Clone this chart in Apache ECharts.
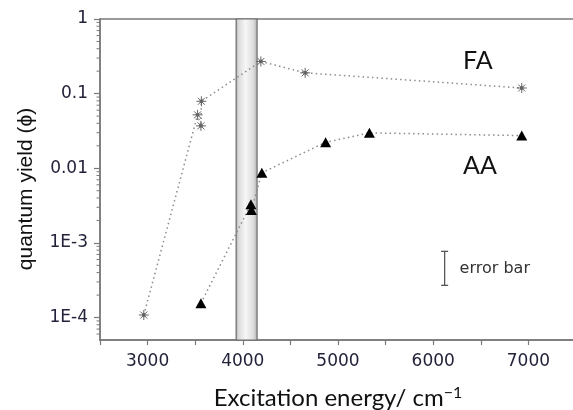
<!DOCTYPE html>
<html>
<head>
<meta charset="utf-8">
<script src="https://cdn.jsdelivr.net/npm/echarts@6/dist/echarts.min.js"></script>
<style>
  html, body { margin: 0; padding: 0; background: #fff; }
  #chart { width: 573px; height: 410px; }
</style>
</head>
<body>
<div id="chart"></div>
<script>
// Excitation energy (cm^-1) and quantum yield for each acid
const faEnergy = [2960, 3525, 3560, 3565, 4190, 4655, 6930];
const faYield  = [1.08e-4, 0.052, 0.037, 0.079, 0.27, 0.19, 0.119];
const aaEnergy = [3560, 4085, 4090, 4200, 4870, 5330, 6930];
const aaYield  = [1.55e-4, 3.3e-3, 2.75e-3, 8.7e-3, 0.0223, 0.0298, 0.0274];

// Shaded energy band (cm^-1)
const bandRange = [3930, 4150];

// Representative error bar: energy, low and high yield
const errorBar = { energy: 6120, low: 2.7e-4, high: 7.7e-4 };

// Axis ranges and labels
const xRange = [2500, 7500];
const yRange = [5e-5, 1];
const yTickLabels = { '0': '1', '-1': '0.1', '-2': '0.01', '-3': '1E-3', '-4': '1E-4' };
const yMinorTicks = [];
[-5, -4, -3, -2, -1].forEach(function (e) {
  for (let m = 2; m <= 9; m++) {
    const v = m * Math.pow(10, e);
    if (v > yRange[0] && v < yRange[1]) yMinorTicks.push(v);
  }
});

const toPairs = (xs, ys) => xs.map((x, i) => [x, ys[i]]);

const chart = echarts.init(document.getElementById('chart'), null, { renderer: 'canvas' });

const axisGray = '#7a7a7a';
const lineGray = '#8c8c8c';

const option = {
  animation: false,
  grid: {
    left: 100, right: -3, top: 19, bottom: 70,
    outerBoundsMode: 'none',
    containLabel: false,
    show: true, borderColor: axisGray, borderWidth: 1.5, backgroundColor: 'transparent'
  },
  xAxis: {
    type: 'value',
    min: xRange[0], max: xRange[1], interval: 500,
    name: 'Excitation energy/ cm{sup|\u22121}',
    nameLocation: 'middle', nameGap: 45,
    nameTextStyle: {
      fontFamily: 'Lato', fontSize: 24, color: '#111',
      rich: { sup: { fontFamily: 'Lato', fontSize: 16, color: '#111', verticalAlign: 'top', padding: [0, 0, 10, 0] } }
    },
    axisLine: { show: true, lineStyle: { color: axisGray, width: 1.5 } },
    axisTick: { show: true, inside: false, length: 5, lineStyle: { color: axisGray, width: 1.2 } },
    axisLabel: {
      margin: 13, fontFamily: 'DejaVu Sans', fontSize: 17, color: '#22223a',
      formatter: v => (v % 1000 === 0 && v > xRange[0] && v < xRange[1]) ? String(v) : ''
    },
    splitLine: { show: false }
  },
  yAxis: {
    type: 'log', logBase: 10,
    min: yRange[0], max: yRange[1],
    axisLine: { show: true, lineStyle: { color: axisGray, width: 1.5 } },
    axisTick: { show: true, inside: false, length: 6, lineStyle: { color: axisGray, width: 1.2 } },
    axisLabel: {
      margin: 12, fontFamily: 'DejaVu Sans', fontSize: 17, color: '#22223a',
      showMinLabel: false,
      formatter: function (v) {
        const e = Math.round(Math.log10(v));
        if (Math.abs(Math.log10(v) - e) > 1e-6) return '';
        return yTickLabels[String(e)] || '';
      }
    },
    splitLine: { show: false }
  },
  series: [
    {
      name: 'FA',
      type: 'line',
      data: toPairs(faEnergy, faYield),
      symbol: 'path://M0,5L10,5M5,0L5,10M1.5,1.5L8.5,8.5M8.5,1.5L1.5,8.5M3.8,3.8L6.2,3.8L6.2,6.2L3.8,6.2Z',
      symbolSize: 10,
      itemStyle: { color: '#111', borderColor: '#666', borderWidth: 1 },
      lineStyle: { color: lineGray, width: 1.5, type: [1.5, 3.2] },
      z: 3,
      markArea: {
        silent: true,
        itemStyle: {
          color: {
            type: 'linear', x: 0, y: 0, x2: 1, y2: 0,
            colorStops: [
              { offset: 0, color: '#b0b0b0' },
              { offset: 0.15, color: '#dcdcdc' },
              { offset: 0.45, color: '#f6f6f6' },
              { offset: 0.8, color: '#dedede' },
              { offset: 1, color: '#acacac' }
            ]
          },
          borderColor: '#6e6e6e', borderWidth: 1.2
        },
        data: [[{ xAxis: bandRange[0] }, { xAxis: bandRange[1] }]]
      }
    },
    {
      name: 'AA',
      type: 'line',
      data: toPairs(aaEnergy, aaYield),
      symbol: 'triangle',
      symbolSize: [11, 10],
      itemStyle: { color: '#000' },
      lineStyle: { color: lineGray, width: 1.5, type: [1.5, 3.2] },
      z: 3
    },
    {
      // log-axis minor ticks, placed through the axis scale
      type: 'custom',
      clip: false,
      silent: true,
      data: yMinorTicks.map(v => [xRange[0], v]),
      renderItem: function (params, api) {
        const p = api.coord([api.value(0), api.value(1)]);
        return {
          type: 'line',
          shape: { x1: p[0] - 3.5, y1: p[1], x2: p[0], y2: p[1] },
          style: { stroke: axisGray, lineWidth: 1 }
        };
      },
      z: 2
    },
    {
      // representative error bar with its caption
      type: 'custom',
      clip: false,
      silent: true,
      data: [[errorBar.energy, errorBar.low, errorBar.high]],
      renderItem: function (params, api) {
        const lo = api.coord([api.value(0), api.value(1)]);
        const hi = api.coord([api.value(0), api.value(2)]);
        const cap = 3.5;
        return {
          type: 'group',
          children: [
            { type: 'line', shape: { x1: hi[0], y1: hi[1], x2: lo[0], y2: lo[1] }, style: { stroke: '#555', lineWidth: 1.3 } },
            { type: 'line', shape: { x1: hi[0] - cap, y1: hi[1], x2: hi[0] + cap, y2: hi[1] }, style: { stroke: '#555', lineWidth: 1.3 } },
            { type: 'line', shape: { x1: lo[0] - cap, y1: lo[1], x2: lo[0] + cap, y2: lo[1] }, style: { stroke: '#555', lineWidth: 1.3 } },
            {
              type: 'text',
              style: {
                text: 'error bar', x: hi[0] + 15, y: (hi[1] + lo[1]) / 2,
                verticalAlign: 'middle', align: 'left',
                font: '16px "DejaVu Sans"', fill: '#333'
              }
            }
          ]
        };
      },
      z: 4
    }
  ],
  graphic: [
    {
      type: 'text', x: 26, y: 189, rotation: Math.PI / 2,
      style: { text: 'quantum yield (\u03d5)', font: '21px "Liberation Sans"', fill: '#111', align: 'center', verticalAlign: 'middle' }
    },
    { type: 'text', left: 463, top: 48, style: { text: 'FA', font: '25px Lato', fill: '#111' } },
    { type: 'text', left: 463, top: 153, style: { text: 'AA', font: '25px Lato', fill: '#111' } }
  ]
};

chart.setOption(option);
</script>
</body>
</html>
